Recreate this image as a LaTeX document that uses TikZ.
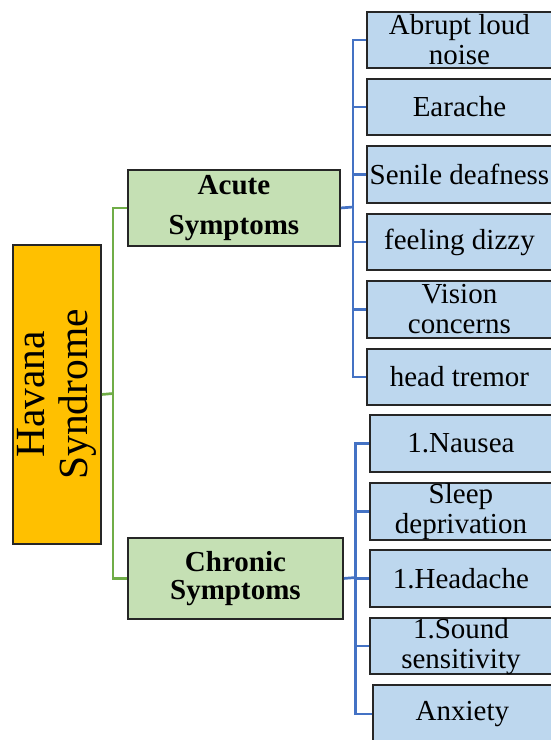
\documentclass[tikz,border=0pt]{standalone}
\usepackage{fontspec}
\setmainfont{Liberation Serif}
\usetikzlibrary{positioning}
\definecolor{orangefill}{HTML}{FFC000}
\definecolor{greenfill}{HTML}{C5E0B4}
\definecolor{bluefill}{HTML}{BDD7EE}
\definecolor{greenline}{HTML}{70AD47}
\definecolor{blueline}{HTML}{4472C4}
\tikzset{
  box/.style={draw=black!85, line width=1.9pt, inner sep=0pt, anchor=north west, align=center},
  leafbox/.style={box, fill=bluefill, font=\fontsize{29}{30}\selectfont},
  midbox/.style={box, fill=greenfill},
  gline/.style={draw=greenline, line width=2.7pt},
  bline/.style={draw=blueline, line width=2.7pt},
}
\begin{document}
\begin{tikzpicture}[x=1pt,y=-1pt]
\useasboundingbox (0,0) rectangle (551,740);
% root
\node[box, fill=orangefill, minimum width=88pt, minimum height=299pt] (hav) at (12,244) {};
\node[rotate=90, align=center, font=\fontsize{41.5}{43}\selectfont] (havtxt) at (hav.center) {Havana\\Syndrome};
% middle
\node[midbox, minimum width=212pt, minimum height=76pt, font=\bfseries\fontsize{29}{40}\selectfont] (acute) at (127,169) {Acute\\Symptoms};
\node[midbox, minimum width=215pt, minimum height=81pt, font=\bfseries\fontsize{29}{28}\selectfont] (chronic) at (127,537) {Chronic\\Symptoms};
% acute leaves
\node[leafbox, minimum width=185pt, minimum height=56pt] (a1) at (366,11) {Abrupt loud\\noise};
\node[leafbox, minimum width=185pt, minimum height=56pt] (a2) at (366,78) {Earache};
\node[leafbox, minimum width=185pt, minimum height=57pt] (a3) at (366,145) {Senile deafness};
\node[leafbox, minimum width=185pt, minimum height=56pt] (a4) at (366,213) {feeling dizzy};
\node[leafbox, minimum width=185pt, minimum height=57pt] (a5) at (366,280) {Vision\\concerns};
\node[leafbox, minimum width=185pt, minimum height=56pt] (a6) at (366,348) {head tremor};
% chronic leaves
\node[leafbox, minimum width=182pt, minimum height=57pt] (c1) at (369,414) {1.Nausea};
\node[leafbox, minimum width=182pt, minimum height=57pt] (c2) at (369,482) {Sleep\\deprivation};
\node[leafbox, minimum width=182pt, minimum height=57pt] (c3) at (369,549) {1.Headache};
\node[leafbox, minimum width=182pt, minimum height=56pt] (c4) at (369,617) {1.Sound\\sensitivity};
\node[leafbox, minimum width=179pt, minimum height=58pt] (c5) at (372,684) {Anxiety};
% green connectors
\coordinate (g) at (113,393.5);
\draw[gline] (hav.east) -- (g);
\draw[gline] (acute.west) -| (g) |- (chronic.west);
% blue connectors acute
\coordinate (ba) at (353,207);
\draw[bline] (acute.east) -- (ba);
\foreach \n in {a1,a2,a3,a4,a5,a6} \draw[bline] (ba) |- (\n.west);
% blue connectors chronic
\coordinate (bc) at (355.5,577.5);
\draw[bline] (chronic.east) -- (bc);
\foreach \n in {c1,c2,c3,c4,c5} \draw[bline] (bc) |- (\n.west);
\end{tikzpicture}
\end{document}
